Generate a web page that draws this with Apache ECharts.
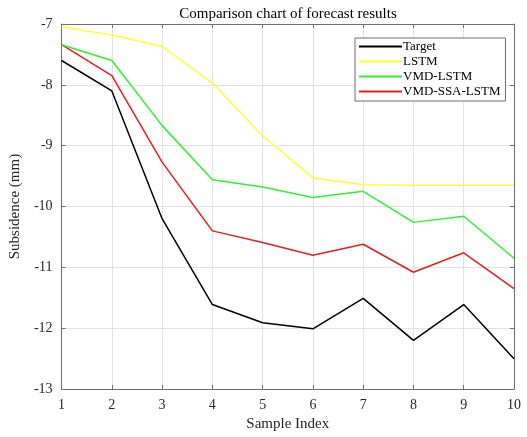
<!DOCTYPE html>
<html><head><meta charset="utf-8">
<script src="https://cdn.jsdelivr.net/npm/echarts@6/dist/echarts.min.js"></script>
<style>html,body{margin:0;padding:0;background:#fff}#c{width:527px;height:437px}</style>
</head><body><div id="c"></div>
<script>
const sampleIndex = [1,2,3,4,5,6,7,8,9,10];
const target = [-7.6,-8.1,-10.2,-11.61,-11.91,-12.01,-11.51,-12.2,-11.61,-12.5];
const lstm = [-7.05,-7.18,-7.37,-7.97,-8.84,-9.53,-9.64,-9.65,-9.65,-9.65];
const vmdLstm = [-7.34,-7.6,-8.67,-9.56,-9.68,-9.85,-9.75,-10.26,-10.16,-10.85];
const vmdSsaLstm = [-7.34,-7.85,-9.27,-10.4,-10.59,-10.8,-10.62,-11.08,-10.76,-11.35];
const seriesNames = ['Target','LSTM','VMD-LSTM','VMD-SSA-LSTM'];
const seriesColors = ['#000000','#ffff33','#33ee33','#e02020'];
const seriesData = [target, lstm, vmdLstm, vmdSsaLstm];

const font = '"Liberation Serif","Times New Roman",serif';
const chart = echarts.init(document.getElementById('c'));
const pairs = arr => sampleIndex.map((x,i)=>[x,arr[i]]);
const axisCommon = {
  axisLine:{show:true,lineStyle:{color:'#6e6e6e',width:1}},
  axisTick:{show:true,inside:true,length:4,lineStyle:{color:'#6e6e6e'}},
};
chart.setOption({
  animation:false,
  backgroundColor:'#fff',
  title:{text:'Comparison chart of forecast results',left:283,textAlign:'center',top:2,
    textStyle:{fontFamily:font,fontSize:15,fontWeight:'normal',color:'#000'}},
  grid:{left:52,right:13,top:24,bottom:45},
  legend:{
    orient:'vertical',left:355,top:38,itemWidth:43,itemHeight:2,itemGap:2,
    padding:[2,5,3,4],
    backgroundColor:'#fff',borderColor:'#6e6e6e',borderWidth:1,
    icon:'rect',
    textStyle:{fontFamily:font,fontSize:13,lineHeight:13,color:'#000',padding:[0,0,0,-4]},
    data:seriesNames
  },
  xAxis:[
    Object.assign({type:'value',min:1,max:10,interval:1,
      name:'Sample Index',nameLocation:'middle',nameGap:27,
      nameTextStyle:{fontFamily:font,fontSize:15,color:'#262626'},
      axisLabel:{fontFamily:font,fontSize:14,color:'#262626',margin:9},
      splitLine:{show:true,lineStyle:{color:'#e3e3e3',width:1}}},axisCommon),
    Object.assign({type:'value',min:1,max:10,interval:1,position:'top',
      axisLabel:{show:false},splitLine:{show:false}},axisCommon)
  ],
  yAxis:[
    Object.assign({type:'value',min:-13,max:-7,interval:1,
      name:'Subsidence (mm)',nameLocation:'middle',nameGap:33,
      nameTextStyle:{fontFamily:font,fontSize:15,color:'#262626'},
      axisLabel:{fontFamily:font,fontSize:14,color:'#262626',margin:9},
      splitLine:{show:true,lineStyle:{color:'#e3e3e3',width:1}}},axisCommon),
    Object.assign({type:'value',min:-13,max:-7,interval:1,position:'right',
      axisLabel:{show:false},splitLine:{show:false}},axisCommon)
  ],
  series: seriesNames.map((n,i)=>({
    name:n,type:'line',data:pairs(seriesData[i]),symbol:'none',
    lineStyle:{color:seriesColors[i],width:1.5},itemStyle:{color:seriesColors[i]},
    z:10-i
  }))
});
</script></body></html>
